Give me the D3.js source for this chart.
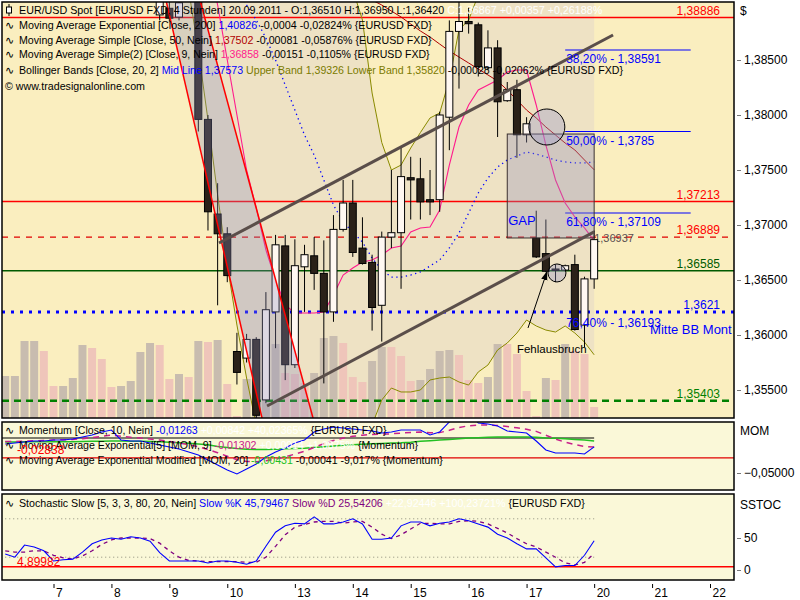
<!DOCTYPE html>
<html><head><meta charset="utf-8">
<script src="https://cdn.jsdelivr.net/npm/d3@7"></script>
<style>
body{margin:0;background:#fff;}
svg{display:block;font-family:"Liberation Sans",Arial,sans-serif;}
text{white-space:pre;}
</style></head><body>
<svg id="c" width="800" height="600"></svg>
<script>
// ---------------- DATA ----------------
const N = null;
const openP  = [N,N,N,N,N,N,N,N,N,N,N,N,N,N,N,N,1.3891,1.3897,1.3889,1.3920,1.3906,1.3796,1.3710,1.3692,1.3585,1.3579,1.3596,1.3541,1.3621,1.3681,1.3573,1.3662,1.3672,1.3656,1.3621,1.3696,1.3720,1.3679,1.3666,1.3627,1.3689,1.3693,1.3743,1.3742,1.3723,1.3723,1.3798,1.3876,1.3885,1.3882,1.3843,1.3861,1.3813,1.3823,1.3782,1.3688,1.3674,1.3660,1.3659,1.3664,1.3609,1.3651];
const highP  = [N,N,N,N,N,N,N,N,N,N,N,N,N,N,N,N,1.3915,1.3903,1.3906,1.3925,1.3912,1.3800,1.3738,1.3698,1.3602,1.3601,1.3598,1.3639,1.3691,1.3691,1.3687,1.3682,1.3689,1.3686,1.3709,1.3741,1.3741,1.3707,1.3673,1.3694,1.3750,1.3771,1.3762,1.3761,1.3750,1.3803,1.3886,1.3905,1.3898,1.3884,1.3877,1.3868,1.3830,1.3832,1.3798,1.3713,1.3705,1.3664,1.3664,1.3673,1.3653,1.3695];
const lowP   = [N,N,N,N,N,N,N,N,N,N,N,N,N,N,N,N,1.3886,1.3885,1.3886,1.3903,1.3785,1.3695,1.3627,1.3648,1.3555,1.3575,1.3518,1.3538,1.3588,1.3559,1.3570,1.3621,1.3641,1.3556,1.3612,1.3694,1.3671,1.3664,1.3604,1.3594,1.3679,1.3642,1.3705,1.3705,1.3709,1.3712,1.3768,1.3824,1.3874,1.3835,1.3841,1.3780,1.3812,1.3761,1.3775,1.3670,1.3657,1.3648,1.3658,1.3604,1.3589,1.3642];
const closeP = [N,N,N,N,N,N,N,N,N,N,N,N,N,N,N,N,1.3910,1.3888,1.3902,1.3906,1.3796,1.3712,1.3692,1.3654,1.3566,1.3596,1.3527,1.3623,1.3682,1.3573,1.3663,1.3673,1.3656,1.3621,1.3696,1.3720,1.3675,1.3665,1.3625,1.3689,1.3693,1.3744,1.3741,1.3721,1.3721,1.3800,1.3876,1.3885,1.3883,1.3844,1.3861,1.3812,1.3823,1.3782,1.3792,1.3671,1.3658,1.3659,1.3663,1.3605,1.3651,1.36867];
const volume = [42,42,77,77,67,32,32,40,73,70,59,31,32,37,66,75,73,39,44,41,77,76,78,34,2,39,46,73,74,45,44,35,45,80,82,75,41,36,57,71,71,62,37,38,49,67,68,63,38,35,41,74,74,64,27,2,40,38,74,67,64,11];
const volUp  = [1,1,1,1,0,0,1,1,1,0,0,0,1,1,1,1,0,0,1,0,1,0,1,0,0,1,1,1,1,0,0,0,1,1,1,0,0,0,1,1,0,0,0,1,1,1,1,0,0,0,1,1,0,0,0,0,1,0,1,0,0,0];

const bbUpper = [N,N,N,N,N,N,N,N,N,N,N,N,N,N,N,N,N,N,N,1.4100,1.4120,1.4140,1.41545,1.4191,1.42181,1.42391,1.42546,1.42445,1.42155,1.41773,1.41363,1.40936,1.40572,1.40091,1.39591,1.3930,1.3914,1.38864,1.38200,1.37750,1.37500,1.37545,1.37700,1.37840,1.37973,1.38018,1.38320,1.38773,1.38864,1.39091,1.39182,1.39227,1.39245,1.39245,1.39245,1.3925,1.3926,1.3928,1.3929,1.3930,1.3931,1.39326];
const bbMid   = [N,N,N,N,N,N,N,N,N,N,N,N,N,N,N,N,N,N,N,1.4000,1.3985,1.3965,1.39409,1.39273,1.39136,1.3900,1.38864,1.3870,1.3850,1.38273,1.38045,1.37818,1.37636,1.37409,1.37182,1.37027,1.36936,1.36845,1.3670,1.36591,1.36527,1.36527,1.36545,1.36573,1.36627,1.36682,1.36791,1.36927,1.37109,1.37291,1.37427,1.37527,1.37591,1.37627,1.37664,1.37645,1.37618,1.37591,1.37573,1.37564,1.37564,1.37573];
const bbLower = [N,N,N,N,N,N,N,N,N,N,N,N,N,N,N,N,N,N,N,1.39136,1.38591,1.37955,1.37273,1.36636,1.36091,1.35609,1.35182,1.34955,1.34845,1.34773,1.34727,1.34700,1.34700,1.34727,1.34773,1.34845,1.34909,1.35000,1.35182,1.35409,1.35518,1.35482,1.35482,1.35500,1.35591,1.35609,1.35618,1.35573,1.35545,1.35664,1.35727,1.35864,1.35927,1.36018,1.36136,1.36082,1.36045,1.36027,1.36082,1.36018,1.35936,1.35820];
const sma9  = [N,N,N,N,N,N,N,N,N,N,N,N,N,N,N,N,N,N,N,1.4000,1.3975,1.39409,1.3900,1.3850,1.3800,1.3750,1.37155,1.36773,1.3650,1.36273,1.3620,1.3620,1.3620,1.36209,1.36364,1.36545,1.36609,1.36664,1.36682,1.36727,1.36791,1.36809,1.36936,1.36973,1.36982,1.37136,1.37545,1.37891,1.38091,1.38227,1.38273,1.38318,1.38391,1.38409,1.38409,1.38091,1.37727,1.37409,1.3720,1.37073,1.36973,1.36858];
const sma50 = [N,N,N,N,N,N,N,N,N,N,N,N,N,N,N,N,N,N,N,N,N,N,N,N,N,N,N,N,N,N,N,N,N,N,N,N,1.3918,1.3911,1.39045,1.3900,1.38945,1.38891,1.38827,1.38764,1.38709,1.38645,1.38582,1.38527,1.38473,1.38418,1.38364,1.38309,1.38227,1.38136,1.38045,1.37973,1.37891,1.37818,1.37745,1.37682,1.37591,1.37502];

const momentum = [-0.0086,-0.0071,-0.0057,-0.0043,-0.0043,-0.0029,-0.0029,-0.0014,0.0014,0.0043,0.0086,0.0114,-0.0029,-0.0043,-0.0043,-0.0071,-0.0100,-0.0129,-0.0157,-0.0200,-0.0243,-0.0314,-0.0386,-0.0457,-0.0514,-0.0443,-0.0371,-0.0271,-0.0200,-0.0143,-0.0071,-0.0029,0.0086,0.0129,0.0157,0.0143,0.0129,0.0114,0.0100,0.0071,0.0086,0.0114,0.0114,0.0114,0.0043,0.0086,0.0229,0.0329,0.0371,0.0214,0.0200,0.0171,0.0100,0.0086,0.0071,-0.0043,-0.0171,-0.0214,-0.0214,-0.0214,-0.0229,-0.01263];
const momEma = [-0.005,-0.005,-0.0045,-0.004,-0.0035,-0.003,-0.0025,-0.002,-0.001,0.0005,0.0025,0.004,0.0025,0.001,0,-0.0015,-0.003,-0.005,-0.007,-0.0095,-0.0125,-0.0165,-0.021,-0.026,-0.031,-0.0335,-0.034,-0.0325,-0.030,-0.027,-0.023,-0.019,-0.0135,-0.008,-0.0035,0,0.0025,0.004,0.005,0.0055,0.006,0.007,0.0078,0.0085,0.0075,0.0077,0.011,0.015,0.0175,0.0185,0.0185,0.018,0.0165,0.0145,0.0125,0.0095,0.004,-0.0015,-0.006,-0.0095,-0.012,-0.01302];
const momEmaMod = [-0.0057,-0.0057,-0.0055,-0.0055,-0.0055,-0.0053,-0.0053,-0.0052,-0.005,-0.0048,-0.0045,-0.0043,-0.0043,-0.0045,-0.0047,-0.005,-0.0055,-0.006,-0.0067,-0.0075,-0.0085,-0.0095,-0.012,-0.0135,-0.015,-0.016,-0.0165,-0.0165,-0.016,-0.0155,-0.015,-0.0145,-0.0135,-0.0125,-0.0115,-0.0105,-0.0095,-0.0088,-0.0082,-0.0078,-0.0072,-0.0068,-0.006,-0.0048,-0.004,-0.003,-0.002,-0.001,0,0.0005,0.001,0.0014,0.0014,0.0014,0.0014,0.001,0,-0.0005,-0.001,-0.002,-0.003,-0.00431];
const stochK = [25,20,39,36,30,14,16,17,28,41,47,50,48,52,50,45,27,14,14,14,14,11,14,14,12,9,14,37,59,69,73,72,83,72,72,75,80,72,48,48,50,69,75,75,69,73,75,80,77,72,67,56,50,41,33,33,19,5,7,7,23,45.79];
const stochD = [30,28,28,30,30,23,19,17,22,30,40,47,50,50,50,49,42,30,20,15,14,13,13,13,13,12,12,20,37,55,67,71,75,76,76,73,75,76,67,56,49,55,64,73,73,72,72,76,77,76,72,65,58,49,41,36,28,20,11,8,12,25.54];

const dayIdx    = [5,11,17,23,30,36,42,48,54,61,67,73];
const dayLabels = ["7","8","9","10","13","14","15","16","17","20","21","22"];
const priceTicks = [1.385,1.38,1.375,1.37,1.365,1.36,1.355];
const levels      = [1.38886,1.37213,1.36889,1.36585,1.3621,1.35403];
const levelLabels = ["1,38886","1,37213","1,36889","1,36585","1,3621","1,35403"];
const fibLevels = [1.38591,1.3785,1.37109];
const fibLabels = ["38,20% - 1,38591","50,00% - 1,3785","61,80% - 1,37109","76,40% - 1,36193"];
const fibLabelLevels = [1.38591,1.3785,1.37109,1.36193];
const upChannel  = [[22.14,1.36836],[62.96,1.38727]];
const loChannel  = [[27.12,1.35355],[61.0,1.36937]];
const downA = [[16.65,1.39045],[26.6,1.35245]];
const downB = [[20.17,1.39045],[31.88,1.35245]];
const gapBox = {i0:52,i1:61,p0:1.37827,p1:1.36882};

// ---------------- SETUP ----------------
const svg = d3.select("#c");
const loc = d3.formatLocale({decimal:",",thousands:".",grouping:[3],currency:["","$"]});
const f5 = loc.format(".5f");
const idx = d3.range(62);

const x  = d3.scaleLinear().domain([0,73]).range([5.23,710]);
const y  = d3.scaleLinear().domain([1.355,1.385]).range([390,60]);
const yV = d3.scaleLinear().domain([0,80]).range([418,338]);
const yM = d3.scaleLinear().domain([-0.05,0]).range([473,438]);
const yS = d3.scaleLinear().domain([0,50]).range([570,538]);

const P = {main:[2,2,732,416], mom:[2,422,732,68], sto:[2,494,732,86]};
const defs = svg.append("defs");
Object.entries(P).forEach(([k,r])=>{
  defs.append("clipPath").attr("id","clip-"+k).append("rect")
    .attr("x",r[0]).attr("y",r[1]).attr("width",r[2]).attr("height",r[3]);
});

// ---------------- MAIN PANEL ----------------
const gm = svg.append("g").attr("clip-path","url(#clip-main)");
gm.append("rect").attr("x",2).attr("y",2).attr("width",732).attr("height",416).attr("fill","#faeebf");

const bbArea = d3.area().defined(i=>bbUpper[i]!=null&&bbLower[i]!=null)
  .x(i=>x(i)).y0(i=>y(bbLower[i])).y1(i=>y(bbUpper[i]));
gm.append("path").datum(idx).attr("d",bbArea).attr("fill","#eee2c4");

gm.selectAll("rect.vol").data(idx).join("rect").attr("class","vol")
  .attr("x",i=>x(i)-4).attr("width",8)
  .attr("y",i=>yV(volume[i])).attr("height",i=>418-yV(volume[i]))
  .attr("fill",i=>volUp[i]?"#c8bcaf":"#efc5ba");

const lvlStyle = [
  {c:"#ff0000",w:1.5,d:null},{c:"#ff0000",w:1.5,d:null},{c:"#e00000",w:1.2,d:"6,6"},
  {c:"#005a00",w:1.5,d:null},{c:"#0000ff",w:3,d:"3,6"},{c:"#008000",w:2.5,d:"7,5"}];
const lvlLabCol = ["#ff0000","#ff0000","#ff0000","#005a00","#0000ff","#008000"];
levels.forEach((v,k)=>{
  gm.append("line").attr("x1",2).attr("x2",734).attr("y1",y(v)).attr("y2",y(v))
    .attr("stroke",lvlStyle[k].c).attr("stroke-width",lvlStyle[k].w)
    .attr("stroke-dasharray",lvlStyle[k].d);
});

fibLevels.forEach(v=>{
  gm.append("line").attr("x1",x(58)).attr("x2",x(71)).attr("y1",y(v)).attr("y2",y(v))
    .attr("stroke","#0000ff").attr("stroke-width",1.2);
});

const mkLine = arr => d3.line().defined(i=>arr[i]!=null).x(i=>x(i)).y(i=>y(arr[i]));
gm.append("path").datum(idx).attr("d",mkLine(bbUpper)).attr("fill","none").attr("stroke","#8a8a00").attr("stroke-width",1);
gm.append("path").datum(idx).attr("d",mkLine(bbLower)).attr("fill","none").attr("stroke","#8a8a00").attr("stroke-width",1);
gm.append("path").datum(idx).attr("d",mkLine(bbMid)).attr("fill","none").attr("stroke","#0000ff").attr("stroke-width",1.3).attr("stroke-dasharray","1.3,3.5");
gm.append("path").datum(idx).attr("d",mkLine(sma50)).attr("fill","none").attr("stroke","#b00000").attr("stroke-width",1);
gm.append("path").datum(idx).attr("d",mkLine(sma9)).attr("fill","none").attr("stroke","#ff1a8c").attr("stroke-width",1.1);

gm.append("text").attr("x",x(61)).attr("y",y(1.36845)).attr("font-size",11).attr("fill","#5a5050").text("1,36937");

const cand = idx.filter(i=>openP[i]!=null);
gm.selectAll("line.wick").data(cand).join("line").attr("class","wick")
  .attr("x1",i=>x(i)).attr("x2",i=>x(i)).attr("y1",i=>y(highP[i])).attr("y2",i=>y(lowP[i]))
  .attr("stroke","#000").attr("stroke-width",1);
gm.selectAll("rect.body").data(cand).join("rect").attr("class","body")
  .attr("x",i=>x(i)-3.5).attr("width",7)
  .attr("y",i=>y(Math.max(openP[i],closeP[i])))
  .attr("height",i=>Math.max(1.5,Math.abs(y(openP[i])-y(closeP[i]))))
  .attr("fill",i=>closeP[i]>=openP[i]?"#fff8f2":"#2a2119")
  .attr("stroke","#000").attr("stroke-width",1);

const lp = p=>[x(p[0]),y(p[1])];
gm.append("path").attr("d","M"+[lp(downA[0]),lp(downA[1]),lp(downB[1]),lp(downB[0])].join("L")+"Z")
  .attr("fill","rgba(140,140,190,0.3)");
[downA,downB].forEach(l=>gm.append("line").attr("x1",lp(l[0])[0]).attr("y1",lp(l[0])[1])
  .attr("x2",lp(l[1])[0]).attr("y2",lp(l[1])[1]).attr("stroke","#ff0000").attr("stroke-width",1.5));

gm.append("rect").attr("x",x(gapBox.i0)).attr("y",y(gapBox.p0))
  .attr("width",x(gapBox.i1)-x(gapBox.i0)).attr("height",y(gapBox.p1)-y(gapBox.p0))
  .attr("fill","rgba(150,145,185,0.33)").attr("stroke","#3a3030").attr("stroke-width",1);
gm.append("text").attr("x",x(52)+1).attr("y",y(1.3700)).attr("font-size",13).attr("fill","#0000ff").text("GAP");

[upChannel,loChannel].forEach(l=>gm.append("line").attr("x1",lp(l[0])[0]).attr("y1",lp(l[0])[1])
  .attr("x2",lp(l[1])[0]).attr("y2",lp(l[1])[1]).attr("stroke","#5a4e4a").attr("stroke-width",3));

gm.append("circle").attr("cx",x(56.1)).attr("cy",y(1.37891)).attr("r",18)
  .attr("fill","rgba(150,150,200,0.35)").attr("stroke","#000").attr("stroke-width",1);
gm.append("circle").attr("cx",x(57.15)).attr("cy",y(1.36564)).attr("r",9)
  .attr("fill","rgba(150,150,200,0.35)").attr("stroke","#000").attr("stroke-width",1);

defs.append("marker").attr("id","arr").attr("viewBox","0 0 10 10").attr("refX",9).attr("refY",5)
  .attr("markerWidth",9).attr("markerHeight",9).attr("orient","auto")
  .append("path").attr("d","M0,1.5L10,5L0,8.5Z").attr("fill","#000");
gm.append("line").attr("x1",x(54.15)).attr("y1",y(1.36064)).attr("x2",x(56.1)).attr("y2",y(1.36573))
  .attr("stroke","#000").attr("stroke-width",1).attr("marker-end","url(#arr)");
gm.append("text").attr("x",x(53)).attr("y",y(1.35836)).attr("font-size",11.5).attr("fill","#000").text("Fehlausbruch");

fibLabels.forEach((t,k)=>{
  gm.append("text").attr("x",x(58)+1).attr("y",y(fibLabelLevels[k])+13).attr("font-size",12).attr("fill","#0000ff").text(t);
});
gm.append("text").attr("x",x(67)-2).attr("y",y(1.36009)).attr("font-size",13).attr("fill","#0000ff").text("Mitte BB Mont");

levels.forEach((v,k)=>{
  gm.append("text").attr("x",720).attr("y",y(v)-3).attr("text-anchor","end").attr("font-size",12)
    .attr("fill",lvlLabCol[k]).text(levelLabels[k]);
});

// legend helper: font size is fitted so the line spans the reference width
function legend(g,x0,y0,parts,len,size){
  const s = size||11.5;
  const t=g.append("text").attr("x",x0).attr("y",y0).attr("font-size",s);
  parts.forEach(p=>t.append("tspan").attr("fill",p[1]).text(p[0]));
  if(len){
    const w = t.node().getComputedTextLength();
    if(w>0) t.attr("font-size",(s*len/w).toFixed(2));
  }
}
function wave(g,x0,y0){
  g.append("text").attr("x",x0).attr("y",y0).attr("font-family","DejaVu Sans").attr("font-size",11).attr("fill","#000").text("∿");
}
gm.append("line").attr("x1",9).attr("x2",9).attr("y1",4).attr("y2",16).attr("stroke","#000");
gm.append("rect").attr("x",6.5).attr("y",7).attr("width",5).attr("height",6).attr("fill","#fff").attr("stroke","#000");
legend(gm,19,14,[["EUR/USD Spot [EURUSD FXD, 4 Stunden] 20.09.2011 - O:1,36510 H:1,36950 L:1,36420 ","#000"],["C:1,36867 +0,00357 +0,26188%","#fff"]],583);
wave(gm,5,29);
legend(gm,19,29,[["Moving Average Exponential [Close, 200] ","#000"],["1,40826","#0000ff"],[" -0,0004 -0,02824% {EURUSD FXD}","#000"]],413);
wave(gm,5,44);
legend(gm,19,44,[["Moving Average Simple [Close, 50, Nein] ","#000"],["1,37502","#b00000"],[" -0,00081 -0,05876% {EURUSD FXD}","#000"]],413);
wave(gm,5,58);
legend(gm,19,58,[["Moving Average Simple(2) [Close, 9, Nein] ","#000"],["1,36858","#ff1a8c"],[" -0,00151 -0,1105% {EURUSD FXD}","#000"]],411);
wave(gm,5,74);
legend(gm,19,74,[["Bollinger Bands [Close, 20, 2] ","#000"],["Mid Line 1,37573","#0000ff"],[" Upper Band 1,39326 Lower Band 1,35820","#7a7a00"],[" -0,00028 -0,02062% {EURUSD FXD}","#000"]],604);
legend(gm,5,90,[["© www.tradesignalonline.com","#000"]],140);

// ---------------- MOMENTUM PANEL ----------------
const gmo = svg.append("g").attr("clip-path","url(#clip-mom)");
gmo.append("rect").attr("x",2).attr("y",422).attr("width",732).attr("height",68).attr("fill","#faf8d8");
gmo.append("line").attr("x1",2).attr("x2",x(61)).attr("y1",yM(0)).attr("y2",yM(0)).attr("stroke","#000").attr("stroke-width",1);
gmo.append("line").attr("x1",2).attr("x2",734).attr("y1",yM(-0.02838)).attr("y2",yM(-0.02838)).attr("stroke","#e00000").attr("stroke-width",1.2);
const mL = arr=>d3.line().x(i=>x(i)).y(i=>yM(arr[i]));
gmo.append("path").datum(idx).attr("d",mL(momEmaMod)).attr("fill","none").attr("stroke","#22c022").attr("stroke-width",1.5);
gmo.append("path").datum(idx).attr("d",mL(momEma)).attr("fill","none").attr("stroke","#c8208a").attr("stroke-width",1.5).attr("stroke-dasharray","6,5");
gmo.append("path").datum(idx).attr("d",mL(momentum)).attr("fill","none").attr("stroke","#0000ff").attr("stroke-width",1.1);
wave(gmo,5,434);
legend(gmo,19,434,[["Momentum [Close, 10, Nein] ","#000"],["-0,01263","#0000ff"],[" +0,00842 +40,02365%","#fff"],[" {EURUSD FXD}","#000"]],368);
wave(gmo,5,449);
legend(gmo,19,449,[["Moving Average Exponential[5] [MOM, 9] ","#000"],["-0,01302","#c8208a"],[" +0,00014 +1,0875%","#fff"],[" {Momentum}","#000"]],399);
wave(gmo,5,464);
legend(gmo,19,464,[["Moving Average Exponential Modified [MOM, 20] ","#000"],["-0,00431","#22c022"],[" -0,00041 -9,017% {Momentum}","#000"]],424);
gmo.append("text").attr("x",17).attr("y",yM(-0.02838)-4).attr("font-size",12).attr("fill","#ff0000").text("-0,02838");

// ---------------- STOCHASTIC PANEL ----------------
const gs = svg.append("g").attr("clip-path","url(#clip-sto)");
gs.append("rect").attr("x",2).attr("y",494).attr("width",732).attr("height",86).attr("fill","#faf8d8");
[80,20].forEach(v=>gs.append("line").attr("x1",x(0)).attr("x2",x(61)).attr("y1",yS(v)).attr("y2",yS(v))
  .attr("stroke","#8a8a7a").attr("stroke-width",1).attr("stroke-dasharray","1,3"));
gs.append("line").attr("x1",2).attr("x2",734).attr("y1",yS(4.89982)).attr("y2",yS(4.89982)).attr("stroke","#ff0000").attr("stroke-width",1.5);
gs.append("path").datum(idx).attr("d",d3.line().x(i=>x(i)).y(i=>yS(stochD[i]))).attr("fill","none")
  .attr("stroke","#800080").attr("stroke-width",1.3).attr("stroke-dasharray","4,4");
gs.append("path").datum(idx).attr("d",d3.line().x(i=>x(i)).y(i=>yS(stochK[i]))).attr("fill","none")
  .attr("stroke","#0000ff").attr("stroke-width",1.1);
wave(gs,5,507);
legend(gs,19,507,[["Stochastic Slow [5, 3, 3, 80, 20, Nein] ","#000"],["Slow %K 45,79467","#0000ff"],[" Slow %D 25,54206","#800080"],[" +22,92446 +100,23721%","#fff"],[" {EURUSD FXD}","#000"]],566);
gs.append("text").attr("x",17).attr("y",yS(4.89982)-1).attr("font-size",12).attr("fill","#ff0000").text("4,89982");

// ---------------- BORDERS ----------------
Object.values(P).forEach(r=>svg.append("rect").attr("x",r[0]).attr("y",r[1]).attr("width",r[2]).attr("height",r[3])
  .attr("fill","none").attr("stroke","#000").attr("stroke-width",1.5));

// ---------------- AXES ----------------
const yAxis = d3.axisRight(y).tickValues(priceTicks).tickFormat(f5).tickSize(4).tickPadding(3);
const ga = svg.append("g").attr("transform","translate(737,0)").call(yAxis);
ga.select(".domain").remove();
ga.selectAll("line").attr("stroke","#777");
ga.selectAll("text").attr("font-size",12).attr("font-family","Liberation Sans,Arial,sans-serif").attr("fill","#000");
svg.append("text").attr("x",740).attr("y",15).attr("font-size",12).text("$");

const mAxis = d3.axisRight(yM).tickValues([-0.05]).tickFormat(f5).tickSize(4).tickPadding(3);
const gma = svg.append("g").attr("transform","translate(737,0)").call(mAxis);
gma.select(".domain").remove(); gma.selectAll("line").attr("stroke","#777");
gma.selectAll("text").attr("font-size",12).attr("font-family","Liberation Sans,Arial,sans-serif").attr("fill","#000");
svg.append("text").attr("x",740).attr("y",435).attr("font-size",12).text("MOM");

const sAxis = d3.axisRight(yS).tickValues([0,50]).tickFormat(d3.format("d")).tickSize(4).tickPadding(3);
const gsa = svg.append("g").attr("transform","translate(737,0)").call(sAxis);
gsa.select(".domain").remove(); gsa.selectAll("line").attr("stroke","#777");
gsa.selectAll("text").attr("font-size",12).attr("font-family","Liberation Sans,Arial,sans-serif").attr("fill","#000");
svg.append("text").attr("x",740).attr("y",509).attr("font-size",12).text("SSTOC");

const xAxis = d3.axisBottom(x).tickValues(dayIdx).tickFormat((d,k)=>dayLabels[k]).tickSize(4).tickPadding(0);
const gx = svg.append("g").attr("transform","translate(0,584)").call(xAxis);
gx.select(".domain").remove();
gx.selectAll("line").attr("stroke","#000");
gx.selectAll("text").attr("text-anchor","start").attr("dx",2).attr("dy",0).attr("y",13)
  .attr("font-size",12).attr("font-family","Liberation Sans,Arial,sans-serif").attr("fill","#000");
</script>
</body></html>
